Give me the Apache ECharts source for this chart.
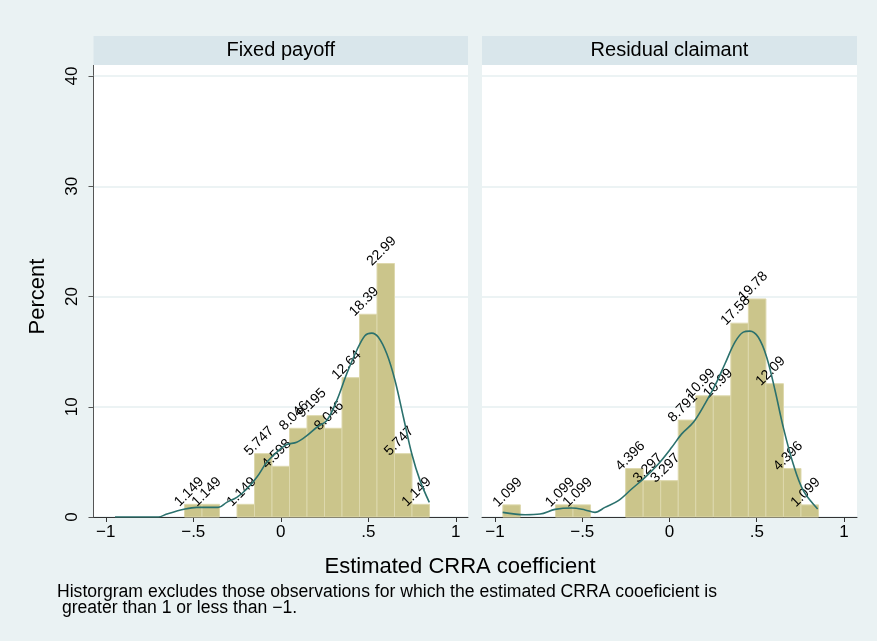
<!DOCTYPE html>
<html>
<head>
<meta charset="utf-8">
<script src="https://cdn.jsdelivr.net/npm/echarts@6/dist/echarts.min.js"></script>
<style>
  html, body { margin: 0; padding: 0; background: #eaf2f3; }
  #chart { width: 877px; height: 641px; }
</style>
</head>
<body>
<div id="chart"></div>
<script>
// Histogram bin edges and percentages for each payment scheme
const panelTitles = ['Fixed payoff', 'Residual claimant'];

const fixedEdges = [-0.55, -0.45, -0.35, -0.25, -0.15, -0.05, 0.05, 0.15, 0.25, 0.35, 0.45, 0.55, 0.65, 0.75, 0.85];
const fixedPct = [1.149, 1.149, 0, 1.149, 5.747, 4.598, 8.046, 9.195, 8.046, 12.64, 18.39, 22.99, 5.747, 1.149];

const residualEdges = [-0.955, -0.8545, -0.754, -0.6535, -0.553, -0.4525, -0.352, -0.2515, -0.151, -0.0505,
  0.05, 0.1505, 0.251, 0.3515, 0.452, 0.5525, 0.653, 0.7535, 0.854];
const residualPct = [1.099, 0, 0, 1.099, 1.099, 0, 0, 4.396, 3.297, 3.297, 8.791, 10.99, 10.99, 17.58, 19.78, 12.09, 4.396, 1.099];

// Kernel density overlay (in percent units)
const fixedDensX = [-0.947, -0.699, -0.651, -0.547, -0.48, -0.357, -0.309, -0.251, -0.194, -0.137, -0.08, -0.023,
  0.034, 0.091, 0.149, 0.206, 0.263, 0.32, 0.377, 0.434, 0.482, 0.52, 0.558, 0.606, 0.653, 0.701, 0.749, 0.796, 0.849];
const fixedDensY = [0, 0, 0.27, 0.72, 0.87, 0.87, 1.33, 1.78, 2.54, 3.6, 4.96, 5.87,
  6.57, 6.78, 7.38, 8.14, 8.75, 10.56, 12.99, 15.1, 16.47, 16.68, 16.3, 14.8, 12.38, 9.05, 5.72, 3.3, 1.33];

const residualDensX = [-0.956, -0.828, -0.742, -0.656, -0.56, -0.484, -0.427, -0.37, -0.293, -0.217, -0.14, -0.064,
  0.013, 0.07, 0.137, 0.203, 0.261, 0.318, 0.375, 0.423, 0.461, 0.509, 0.557, 0.605, 0.652, 0.709, 0.767, 0.849];
const residualDensY = [0.42, 0.21, 0.27, 0.69, 0.82, 0.64, 0.42, 0.87, 1.48, 2.54, 3.6, 4.81,
  6.32, 7.54, 8.59, 10.26, 11.93, 13.9, 15.86, 16.77, 16.86, 16.3, 14.5, 11.47, 8.14, 4.81, 2.39, 0.73];

const xTicks = [-1, -0.5, 0, 0.5, 1];
const yTicks = [0, 10, 20, 30, 40];

const FONT = '"Liberation Sans", Arial, Helvetica, sans-serif';
const BAR_FILL = '#cbc58b';
const BAR_EDGE = '#ddd8ad';
const LINE_COLOR = '#2b716d';
const HEADER_TOP = 36, HEADER_H = 29;  // title strip above each panel
const PANEL_TOP = 65;                  // white plot region starts right under the strip

function binData(edges, pct) {
  return pct.map((v, i) => [edges[i], edges[i + 1], v]);
}
function pairs(xs, ys) {
  return xs.map((x, i) => [x, ys[i]]);
}
function fmtX(v) {
  if (v === 0) return '0';
  const s = Math.abs(v) === 1 ? '1' : '.5';
  return v < 0 ? '\u2212' + s : s;
}

function renderBin(params, api) {
  const x0 = api.value(0), x1 = api.value(1), v = api.value(2);
  if (!v) return null;
  const tl = api.coord([x0, v]);
  const br = api.coord([x1, 0]);
  const cx = (tl[0] + br[0]) / 2;
  return {
    type: 'group',
    children: [
      {
        type: 'rect',
        shape: { x: tl[0], y: tl[1], width: br[0] - tl[0], height: br[1] - tl[1] },
        style: { fill: BAR_FILL, stroke: BAR_EDGE, lineWidth: 1 }
      },
      {
        type: 'text',
        x: cx - 4,
        y: tl[1] - 12.5,
        rotation: Math.PI / 4,
        z2: 10,
        style: {
          text: String(v),
          fill: '#000',
          font: '14px ' + FONT,
          align: 'center',
          verticalAlign: 'middle'
        }
      }
    ]
  };
}

// plotting rectangles: y runs 0..40 from 517 up to 76
const grids = [
  { left: 93.5, top: 76, width: 374.5, height: 441 },
  { left: 482, top: 76, width: 375, height: 441 }
];
const xRanges = [[-1.07, 1.07], [-1.0745, 1.0745]];

const chart = echarts.init(document.getElementById('chart'), null, { renderer: 'canvas' });

const option = {
  backgroundColor: '#eaf2f3',
  animation: false,
  grid: grids.map(g => Object.assign({ show: true, backgroundColor: '#ffffff', borderWidth: 0 }, g)),
  xAxis: grids.map((g, i) => ({
    type: 'value',
    gridIndex: i,
    min: xRanges[i][0],
    max: xRanges[i][1],
    axisLine: { show: true, onZero: false, lineStyle: { color: '#333', width: 1 } },
    axisTick: { show: true, length: 5, customValues: xTicks, lineStyle: { color: '#333' } },
    axisLabel: {
      customValues: xTicks,
      formatter: fmtX,
      color: '#000',
      fontSize: 17,
      fontFamily: FONT,
      margin: 7
    },
    splitLine: { show: false }
  })),
  yAxis: grids.map((g, i) => ({
    type: 'value',
    gridIndex: i,
    min: 0,
    max: 40,
    name: i === 0 ? 'Percent' : '',
    nameLocation: 'middle',
    nameRotate: 90,
    nameGap: 45,
    nameTextStyle: { color: '#000', fontSize: 22, fontFamily: FONT },
    axisLine: { show: i === 0, onZero: false, lineStyle: { color: '#555', width: 1 } },
    axisTick: { show: i === 0, length: 5, customValues: yTicks, lineStyle: { color: '#555' } },
    axisLabel: {
      show: i === 0,
      customValues: yTicks,
      rotate: 90,
      color: '#000',
      fontSize: 17,
      fontFamily: FONT,
      margin: 13
    },
    splitLine: { show: true, lineStyle: { color: '#e6eff1', width: 1.5 } }
  })),
  series: [
    {
      type: 'custom',
      xAxisIndex: 0, yAxisIndex: 0,
      renderItem: renderBin,
      data: binData(fixedEdges, fixedPct),
      encode: { x: [0, 1], y: 2 },
      z: 2
    },
    {
      type: 'custom',
      xAxisIndex: 1, yAxisIndex: 1,
      renderItem: renderBin,
      data: binData(residualEdges, residualPct),
      encode: { x: [0, 1], y: 2 },
      z: 2
    },
    {
      type: 'line',
      xAxisIndex: 0, yAxisIndex: 0,
      data: pairs(fixedDensX, fixedDensY),
      smooth: 0.35,
      showSymbol: false,
      lineStyle: { color: LINE_COLOR, width: 1.6 },
      z: 3
    },
    {
      type: 'line',
      xAxisIndex: 1, yAxisIndex: 1,
      data: pairs(residualDensX, residualDensY),
      smooth: 0.35,
      showSymbol: false,
      lineStyle: { color: LINE_COLOR, width: 1.6 },
      z: 3
    }
  ],
  graphic: [
    // Panel header strips, plus the white margin between strip and the 40 line
    ...grids.map((g, i) => ({
      type: 'group',
      children: [
        { type: 'rect', shape: { x: g.left, y: HEADER_TOP, width: g.width, height: HEADER_H }, style: { fill: '#d9e6eb' } },
        { type: 'rect', shape: { x: g.left, y: PANEL_TOP, width: g.width, height: g.top - PANEL_TOP }, style: { fill: '#ffffff' } },
        {
          type: 'text', x: g.left + g.width / 2, y: HEADER_TOP + HEADER_H / 2,
          style: { text: panelTitles[i], font: '20px ' + FONT, fill: '#000', align: 'center', verticalAlign: 'middle' }
        }
      ]
    })),
    // left axis line continues up to the strip
    {
      type: 'line',
      shape: { x1: grids[0].left, y1: PANEL_TOP, x2: grids[0].left, y2: grids[0].top },
      style: { stroke: '#555', lineWidth: 1 }
    },
    {
      type: 'text', x: 460, y: 567,
      style: { text: 'Estimated CRRA coefficient', font: '22px ' + FONT, fill: '#000', align: 'center', verticalAlign: 'middle' }
    },
    {
      type: 'text', x: 57, y: 592,
      style: { text: 'Historgram excludes those observations for which the estimated CRRA cooeficient is', font: '17.6px ' + FONT, fill: '#000', align: 'left', verticalAlign: 'middle' }
    },
    {
      type: 'text', x: 57, y: 608,
      style: { text: ' greater than 1 or less than \u22121.', font: '17.6px ' + FONT, fill: '#000', align: 'left', verticalAlign: 'middle' }
    }
  ]
};

chart.setOption(option);
</script>
</body>
</html>
